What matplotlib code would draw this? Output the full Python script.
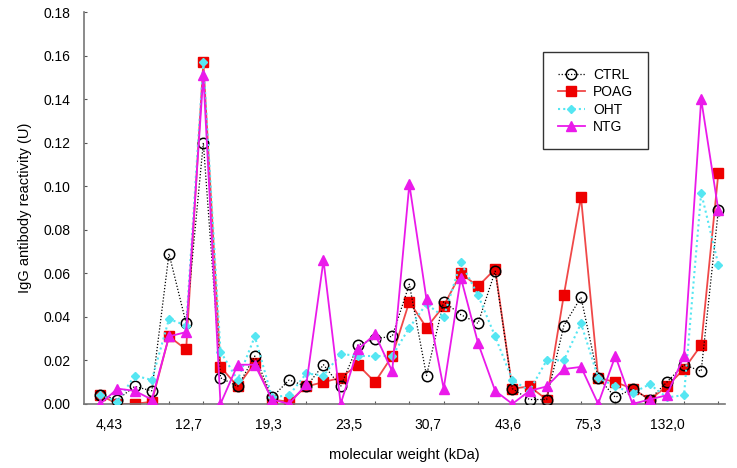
import numpy as np
import matplotlib.pyplot as plt

plt.rcParams['font.family'] = ['Liberation Sans', 'DejaVu Sans']

# values, one per band (37 bands)
ctrl = [0.004, 0.002, 0.008, 0.006, 0.069, 0.037, 0.120, 0.012, 0.008, 0.022,
        0.003, 0.011, 0.008, 0.018, 0.008, 0.027, 0.030, 0.031, 0.055, 0.013,
        0.047, 0.041, 0.037, 0.061, 0.007, 0.002, 0.002, 0.036, 0.049, 0.012,
        0.003, 0.007, 0.002, 0.010, 0.018, 0.015, 0.089]
poag = [0.004, 0.000, 0.000, 0.001, 0.031, 0.025, 0.157, 0.017, 0.008, 0.019,
        0.002, 0.001, 0.008, 0.010, 0.012, 0.018, 0.010, 0.022, 0.047, 0.035,
        0.045, 0.060, 0.054, 0.062, 0.007, 0.008, 0.002, 0.050, 0.095, 0.012,
        0.010, 0.007, 0.002, 0.008, 0.016, 0.027, 0.106]
oht = [0.004, 0.001, 0.013, 0.011, 0.039, 0.036, 0.157, 0.024, 0.011, 0.031,
       0.003, 0.004, 0.014, 0.013, 0.023, 0.022, 0.022, 0.022, 0.035, 0.046,
       0.040, 0.065, 0.050, 0.031, 0.011, 0.006, 0.020, 0.020, 0.037, 0.012,
       0.008, 0.005, 0.009, 0.003, 0.004, 0.097, 0.064]
ntg = [0.000, 0.007, 0.006, 0.002, 0.031, 0.033, 0.151, 0.000, 0.018, 0.018,
       0.002, 0.000, 0.009, 0.066, 0.000, 0.025, 0.032, 0.015, 0.101, 0.048,
       0.007, 0.058, 0.028, 0.006, 0.000, 0.006, 0.008, 0.016, 0.017, 0.000,
       0.022, 0.000, 0.002, 0.004, 0.022, 0.140, 0.089]

mw_labels = ['4,43', '12,7', '19,3', '23,5', '30,7', '43,6', '75,3', '132,0']
mw_label_pos = [0.5, 5.15, 9.8, 14.45, 19.1, 23.75, 28.4, 33.05]

x = np.arange(len(ctrl))

fig = plt.figure(figsize=(7.37, 4.68), dpi=100)
ax = fig.add_axes([0.114, 0.137, 0.87, 0.837])

ax.plot(x, ctrl, color='black', ls=(0, (1, 1.5)), lw=0.9, marker='o', ms=7.5,
        mfc='none', mec='black', mew=1.1, label='CTRL', zorder=3)
ax.plot(x, poag, color='#f04848', ls='-', lw=1.3, marker='s', ms=6.5,
        mfc='#ee0000', mec='#ee0000', label='POAG', zorder=2)
ax.plot(x, oht, color='#55e6f2', ls=(0, (1, 1.5)), lw=1.5, marker='D', ms=4.5,
        mfc='#55e6f2', mec='#55e6f2', label='OHT', zorder=4)
ax.plot(x, ntg, color='#ea1aea', ls='-', lw=1.3, marker='^', ms=6.5,
        mfc='#ea1aea', mec='#ea1aea', label='NTG', zorder=5)

ax.set_xlim(-0.95, 36.4)
ax.set_ylim(0, 0.18)
ax.set_yticks(np.arange(0, 0.181, 0.02))
ax.set_yticklabels(['%.2f' % v for v in np.arange(0, 0.181, 0.02)])

ax.set_xticks(np.arange(0, 37, 2))
ax.set_xticklabels([])
ax.set_xticks(mw_label_pos, mw_labels, minor=True)
ax.tick_params(axis='x', which='minor', length=0, pad=10, labelsize=10)
ax.tick_params(axis='x', which='major', direction='in', length=2, color='#555555')
ax.tick_params(axis='y', direction='in', length=2, color='#555555', labelsize=10, pad=10)

for s in ['top', 'right']:
    ax.spines[s].set_visible(False)
for s in ['left', 'bottom']:
    ax.spines[s].set_color('#777777')
    ax.spines[s].set_linewidth(1.2)

ax.set_xlabel('molecular weight (kDa)', fontsize=10.5, labelpad=12)
ax.set_ylabel('IgG antibody reactivity (U)', fontsize=10.5, labelpad=8)

leg = ax.legend(loc='upper left', bbox_to_anchor=(0.705, 0.915), fancybox=False,
                edgecolor='#333333', fontsize=10, handlelength=1.9,
                handletextpad=0.6, labelspacing=0.25, borderpad=1.1,
                framealpha=1)
leg.get_frame().set_linewidth(1.0)

fig.savefig('out.png', dpi=100)
